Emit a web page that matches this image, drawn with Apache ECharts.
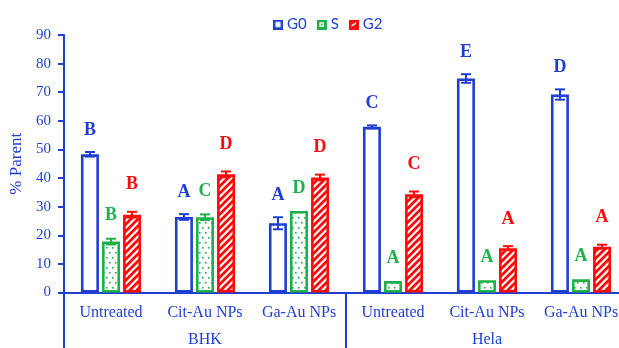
<!DOCTYPE html>
<html>
<head>
<meta charset="utf-8">
<script src="https://cdn.jsdelivr.net/npm/echarts@6/dist/echarts.min.js"></script>
<style>
  html, body { margin: 0; padding: 0; background: #ffffff; }
  #chart { width: 619px; height: 348px; }
</style>
</head>
<body>
<div id="chart"></div>
<script>
// Treatments (bottom row) and the cell lines they belong to
const categories = ['Untreated', 'Cit-Au NPs', 'Ga-Au NPs', 'Untreated', 'Cit-Au NPs', 'Ga-Au NPs'];
const cellLines = ['BHK', 'Hela'];
const seriesNames = ['G0', 'S', 'G2'];

// % of parent population in each cell-cycle phase
const g0Values = [48.3, 26.4, 24.2, 57.9, 74.8, 69.2];
const sValues = [17.8, 26.3, 28.5, 4.0, 4.3, 4.6];
const g2Values = [27.2, 41.3, 40.2, 34.3, 15.5, 16.0];

// standard deviations
const g0Err = [0.8, 1.0, 2.1, 0.5, 1.5, 1.8];
const sErr = [1.0, 1.0, 0, 0, 0, 0];
const g2Err = [1.0, 1.0, 1.0, 1.0, 0.7, 0.7];

// significance groups
const g0Letters = ['B', 'A', 'A', 'C', 'E', 'D'];
const sLetters = ['B', 'C', 'D', 'A', 'A', 'A'];
const g2Letters = ['B', 'D', 'D', 'C', 'A', 'A'];

// y axis
const yMin = 0, yMax = 90, yStep = 10;

const BLUE = '#1f3fd2';
const GREEN = '#1faf4b';
const RED = '#ff0a0a';
const SERIF = '"Liberation Serif", "Times New Roman", serif';

function makeCanvas(w, h) {
  const c = document.createElement('canvas');
  c.width = w; c.height = h;
  return c;
}

// dotted fill for S phase
function dotPattern() {
  const c = makeCanvas(6, 10);
  const g = c.getContext('2d');
  g.fillStyle = '#ffffff'; g.fillRect(0, 0, 6, 10);
  g.fillStyle = GREEN;
  g.fillRect(1, 2, 1.6, 1.6);
  g.fillRect(4, 7, 1.6, 1.6);
  return c;
}

// diagonal hatch for G2 phase
function hatchPattern() {
  const n = 7;
  const c = makeCanvas(n, n);
  const g = c.getContext('2d');
  g.fillStyle = '#ffffff'; g.fillRect(0, 0, n, n);
  g.strokeStyle = RED; g.lineWidth = 2.8;
  g.beginPath();
  g.moveTo(0, n); g.lineTo(n, 0);
  g.moveTo(-n, n); g.lineTo(n, -n);
  g.moveTo(0, 2 * n); g.lineTo(2 * n, 0);
  g.stroke();
  return c;
}

// small legend swatches
function legendIcon(kind) {
  const c = makeCanvas(11, 11);
  const g = c.getContext('2d');
  g.fillStyle = '#ffffff'; g.fillRect(0, 0, 11, 11);
  if (kind === 'G0') {
    g.strokeStyle = BLUE; g.lineWidth = 2.6; g.strokeRect(1.3, 1.3, 8.4, 8.4);
  } else if (kind === 'S') {
    g.fillStyle = GREEN; g.fillRect(0, 0, 11, 11);
    g.fillStyle = '#ffffff'; g.fillRect(3, 3, 5, 5);
    g.fillStyle = GREEN; g.fillRect(4.5, 4.5, 2, 2);
  } else {
    g.fillStyle = RED; g.fillRect(0, 0, 11, 11);
    g.fillStyle = '#ffffff';
    g.beginPath(); g.moveTo(3, 8); g.lineTo(3, 6); g.lineTo(8, 3); g.lineTo(8, 5); g.closePath(); g.fill();
  }
  return 'image://' + c.toDataURL();
}

const phases = [
  { name: seriesNames[0], values: g0Values, err: g0Err, letters: g0Letters, color: BLUE,
    fill: '#ffffff', gap: 22 },
  { name: seriesNames[1], values: sValues, err: sErr, letters: sLetters, color: GREEN,
    fill: { image: dotPattern(), repeat: 'repeat' }, gap: 23 },
  { name: seriesNames[2], values: g2Values, err: g2Err, letters: g2Letters, color: RED,
    fill: { image: hatchPattern(), repeat: 'repeat' }, gap: 27 }
];

const BAR_W = 18;
const BAR_STEP = 21; // bar width plus gap

const series = [];
phases.forEach(function (p) {
  series.push({
    name: p.name,
    type: 'bar',
    xAxisIndex: 0,
    barWidth: BAR_W,
    barGap: '17%',
    itemStyle: { color: p.fill, borderColor: p.color, borderWidth: 2.6 },
    data: p.values,
    z: 2
  });
});

// error bars and significance letters, drawn over the bars
phases.forEach(function (p, k) {
  series.push({
    name: p.name + ' error',
    type: 'custom',
    xAxisIndex: 0,
    clip: false,
    z: 5,
    data: p.values.map(function (v, i) { return [i, v, p.err[i]]; }),
    renderItem: function (params, api) {
      const i = api.value(0);
      const v = api.value(1);
      const e = api.value(2);
      const dx = (k - 1) * BAR_STEP;
      const top = api.coord([i, v + e]);
      const bot = api.coord([i, v - e]);
      const x = top[0] + dx;
      const children = [];
      const ls = { stroke: p.color, lineWidth: 2 };
      if (e > 0) {
        children.push({ type: 'line', shape: { x1: x, y1: top[1], x2: x, y2: bot[1] }, style: ls });
        children.push({ type: 'line', shape: { x1: x - 5, y1: top[1], x2: x + 5, y2: top[1] }, style: ls });
        children.push({ type: 'line', shape: { x1: x - 5, y1: bot[1], x2: x + 5, y2: bot[1] }, style: ls });
      }
      children.push({
        type: 'text',
        style: {
          text: p.letters[i], x: x, y: top[1] - p.gap,
          align: 'center', verticalAlign: 'middle',
          fill: p.color, font: 'bold 18px ' + SERIF
        }
      });
      return { type: 'group', children: children };
    }
  });
});

const yLabels = [];
for (let t = yMin; t <= yMax; t += yStep) yLabels.push(t);

const chart = echarts.init(document.getElementById('chart'), null, { renderer: 'canvas' });
chart.setOption({
  animation: false,
  backgroundColor: '#ffffff',
  legend: {
    data: phases.map(function (p) { return { name: p.name, icon: legendIcon(p.name) }; }),
    left: 273, top: 17, padding: 0,
    itemWidth: 10, itemHeight: 10, itemGap: 10,
    textStyle: { color: BLUE, fontFamily: 'Lato, "Open Sans", sans-serif', fontSize: 15, padding: [0, 0, 0, -1] }
  },
  grid: { left: 64, top: 35, width: 564, bottom: 55.5, containLabel: false, outerBoundsMode: 'none' },
  xAxis: [
    {
      type: 'category',
      data: categories,
      position: 'bottom',
      axisLine: { lineStyle: { color: BLUE, width: 2 } },
      axisTick: { show: false },
      axisLabel: { color: BLUE, fontFamily: SERIF, fontSize: 16, margin: 12, interval: 0 }
    },
    {
      type: 'category',
      data: cellLines,
      position: 'bottom',
      axisLine: { show: false },
      axisTick: { show: true, length: 62, lineStyle: { color: BLUE, width: 2 } },
      axisLabel: { color: BLUE, fontFamily: SERIF, fontSize: 16, margin: 39, interval: 0 }
    }
  ],
  yAxis: {
    type: 'value',
    min: yMin, max: yMax, interval: yStep,
    name: '% Parent',
    nameLocation: 'middle',
    nameRotate: 90,
    nameGap: 33,
    nameTextStyle: { color: BLUE, fontFamily: SERIF, fontSize: 17 },
    axisLine: { show: true, lineStyle: { color: BLUE, width: 2 } },
    axisTick: { show: true, length: 6, lineStyle: { color: BLUE, width: 2 } },
    axisLabel: { color: BLUE, fontFamily: SERIF, fontSize: 15, margin: 13,
      formatter: function (v) { return yLabels.indexOf(v) >= 0 ? String(v) : ''; } },
    splitLine: { show: false }
  },
  series: series
});
</script>
</body>
</html>
